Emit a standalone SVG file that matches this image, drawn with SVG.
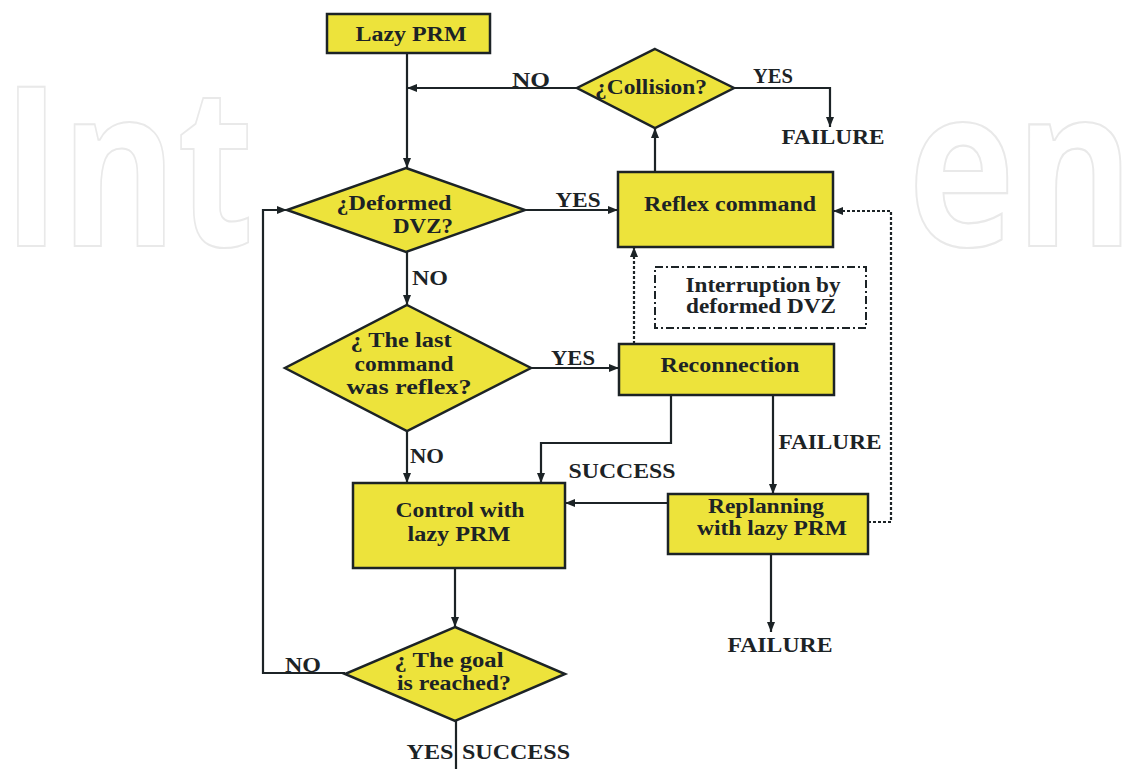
<svg xmlns="http://www.w3.org/2000/svg" width="1145" height="769" viewBox="0 0 1145 769">
<defs>
<marker id="ah" viewBox="0 0 10 8" refX="10" refY="4" markerWidth="10" markerHeight="8" markerUnits="userSpaceOnUse" orient="auto">
<path d="M0,0 L10,4 L0,8 z" fill="#1c2326"/>
</marker>
</defs>
<style>
.wm{font-family:"Open Sans","Noto Sans",sans-serif;font-weight:700;font-size:222px;fill:none;stroke:#e9e9e9;stroke-width:2}
.box{fill:#ede33b;stroke:#1c2326;stroke-width:2.5}
.t{font-family:"Liberation Serif","Times New Roman",serif;font-weight:bold;font-size:20px;fill:#1c2326;text-anchor:middle}
.ln{fill:none;stroke:#1c2326;stroke-width:2.2}
.dot{fill:none;stroke:#1c2326;stroke-width:2.2;stroke-dasharray:3 2}
.dash{fill:none;stroke:#1c2326;stroke-width:2;stroke-dasharray:8 3 2 3}
</style>
<rect width="1145" height="769" fill="#ffffff"/>
<g id="watermark">
<text class="wm" x="2" y="246" textLength="252" lengthAdjust="spacingAndGlyphs">Int</text>
<text class="wm" transform="translate(908,246) scale(1,1.233)" x="0" y="0" style="font-size:180px;stroke-width:1.8" textLength="226" lengthAdjust="spacingAndGlyphs">en</text>
</g>
<g id="connectors">
<path class="ln" d="M407,53 V168" marker-end="url(#ah)"/>
<path class="ln" d="M577,88 H407" marker-end="url(#ah)"/>
<path class="ln" d="M734,88 H830 V127" marker-end="url(#ah)"/>
<path class="ln" d="M655,172 V128" marker-end="url(#ah)"/>
<path class="ln" d="M525,210 H618" marker-end="url(#ah)"/>
<path class="ln" d="M407,252 V305" marker-end="url(#ah)"/>
<path class="ln" d="M345,673 H263 V210 H287" marker-end="url(#ah)"/>
<path class="ln" d="M531,368 H619" marker-end="url(#ah)"/>
<path class="ln" d="M407,431 V483" marker-end="url(#ah)"/>
<path class="ln" d="M671,395 V443 H541 V483" marker-end="url(#ah)"/>
<path class="ln" d="M773,395 V494" marker-end="url(#ah)"/>
<path class="ln" d="M668,503 H565" marker-end="url(#ah)"/>
<path class="ln" d="M771,554 V632" marker-end="url(#ah)"/>
<path class="ln" d="M455,568 V627" marker-end="url(#ah)"/>
<path class="ln" d="M456,721 V769"/>
<path class="dot" d="M634,344 V247" marker-end="url(#ah)"/>
<path class="dot" d="M868,522 H891 V211 H833" marker-end="url(#ah)"/>
<text class="t" x="531" y="87" textLength="38" lengthAdjust="spacingAndGlyphs">NO</text>
<text class="t" x="773" y="83" textLength="40" lengthAdjust="spacingAndGlyphs">YES</text>
<text class="t" x="833" y="144" textLength="103" lengthAdjust="spacingAndGlyphs">FAILURE</text>
<text class="t" x="578" y="207" textLength="45" lengthAdjust="spacingAndGlyphs">YES</text>
<text class="t" x="430" y="285" textLength="36" lengthAdjust="spacingAndGlyphs">NO</text>
<text class="t" x="573" y="365" textLength="44" lengthAdjust="spacingAndGlyphs">YES</text>
<text class="t" x="427" y="463" textLength="34" lengthAdjust="spacingAndGlyphs">NO</text>
<text class="t" x="622" y="478" textLength="107" lengthAdjust="spacingAndGlyphs">SUCCESS</text>
<text class="t" x="830" y="449" textLength="103" lengthAdjust="spacingAndGlyphs">FAILURE</text>
<text class="t" x="303" y="672" textLength="36" lengthAdjust="spacingAndGlyphs">NO</text>
<text class="t" x="780" y="652" textLength="105" lengthAdjust="spacingAndGlyphs">FAILURE</text>
<text class="t" x="430" y="759" textLength="47" lengthAdjust="spacingAndGlyphs">YES</text>
<text class="t" x="516" y="759" textLength="108" lengthAdjust="spacingAndGlyphs">SUCCESS</text>
</g>
<g id="lazy-prm">
<rect class="box" x="327" y="14" width="163" height="39"/>
<text class="t" x="411" y="41" textLength="111" lengthAdjust="spacingAndGlyphs">Lazy PRM</text>
</g>
<g id="collision">
<polygon class="box" points="655,49 734,88 655,128 577,88"/>
<text class="t" x="651" y="94" textLength="112" lengthAdjust="spacingAndGlyphs">¿Collision?</text>
</g>
<g id="deformed-dvz">
<polygon class="box" points="406,168 525,210 406,252 287,210"/>
<text class="t" x="394" y="210" textLength="115" lengthAdjust="spacingAndGlyphs">¿Deformed</text>
<text class="t" x="423" y="233" textLength="60" lengthAdjust="spacingAndGlyphs">DVZ?</text>
</g>
<g id="reflex-command">
<rect class="box" x="618" y="172" width="215" height="75"/>
<text class="t" x="730" y="211" textLength="172" lengthAdjust="spacingAndGlyphs">Reflex command</text>
</g>
<g id="interruption">
<rect class="dash" x="655" y="267" width="211" height="61"/>
<text class="t" x="763" y="292" textLength="155" lengthAdjust="spacingAndGlyphs">Interruption by</text>
<text class="t" x="761" y="313" textLength="150" lengthAdjust="spacingAndGlyphs">deformed DVZ</text>
</g>
<g id="last-command">
<polygon class="box" points="407,305 531,368 407,431 285,368"/>
<text class="t" x="401" y="347" textLength="101" lengthAdjust="spacingAndGlyphs">¿ The last</text>
<text class="t" x="404" y="371" textLength="99" lengthAdjust="spacingAndGlyphs">command</text>
<text class="t" x="409" y="394" textLength="125" lengthAdjust="spacingAndGlyphs">was reflex?</text>
</g>
<g id="reconnection">
<rect class="box" x="619" y="344" width="215" height="51"/>
<text class="t" x="730" y="372" textLength="139" lengthAdjust="spacingAndGlyphs">Reconnection</text>
</g>
<g id="control">
<rect class="box" x="353" y="483" width="212" height="85"/>
<text class="t" x="460" y="517" textLength="129" lengthAdjust="spacingAndGlyphs">Control with</text>
<text class="t" x="459" y="541" textLength="103" lengthAdjust="spacingAndGlyphs">lazy PRM</text>
</g>
<g id="replanning">
<rect class="box" x="668" y="494" width="200" height="60"/>
<text class="t" x="766" y="513" textLength="116" lengthAdjust="spacingAndGlyphs">Replanning</text>
<text class="t" x="772" y="535" textLength="150" lengthAdjust="spacingAndGlyphs">with lazy PRM</text>
</g>
<g id="goal">
<polygon class="box" points="455,627 565,674 455,721 345,674"/>
<text class="t" x="449" y="667" textLength="109" lengthAdjust="spacingAndGlyphs">¿ The goal</text>
<text class="t" x="454" y="690" textLength="114" lengthAdjust="spacingAndGlyphs">is reached?</text>
</g>
</svg>
